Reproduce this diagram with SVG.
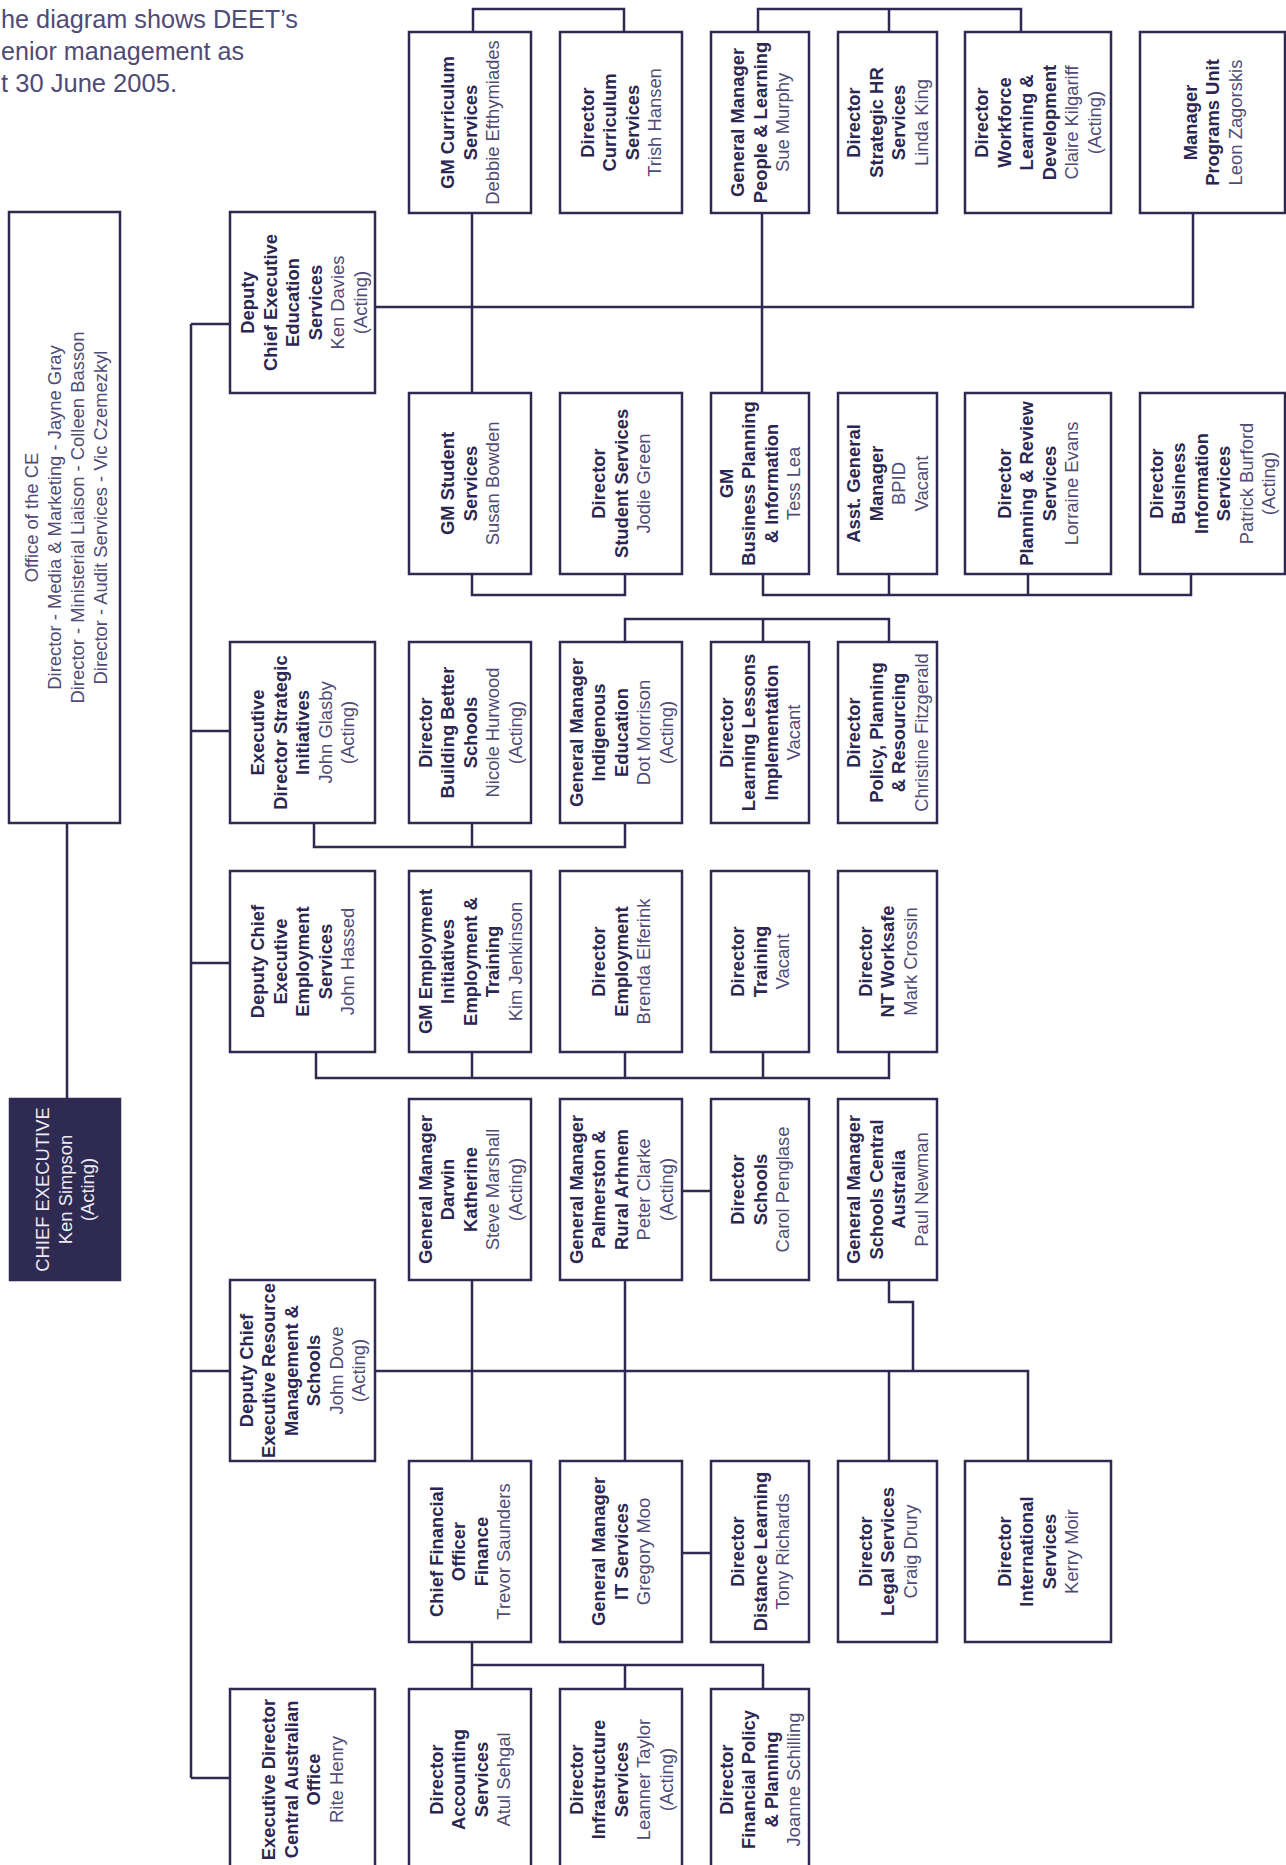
<svg xmlns="http://www.w3.org/2000/svg" width="1286" height="1865" viewBox="0 0 1286 1865">
<style>
  .box{fill:#ffffff;stroke:#2e2a52;stroke-width:2.5}
  .ce{fill:#2e2a52;stroke:#2e2a52;stroke-width:2.5}
  .t{font-family:"Liberation Sans",Arial,Helvetica,sans-serif;font-size:18.4px;text-anchor:middle}
  .b{font-weight:bold;fill:#2b2752}
  .l{fill:#504b76}
  .w{fill:#ecebf3}
  .intro{font-family:"Liberation Sans",Arial,Helvetica,sans-serif;font-size:25px;fill:#504b76}
  .c path{fill:none;stroke:#2e2a52;stroke-width:2.5}
</style>
<rect width="1286" height="1865" fill="#ffffff"/>

<g id="intro">
  <text class="intro" x="1" y="28" textLength="297" lengthAdjust="spacingAndGlyphs">he diagram shows DEET’s</text>
  <text class="intro" x="1" y="60" textLength="243" lengthAdjust="spacingAndGlyphs">enior management as</text>
  <text class="intro" x="1" y="92" textLength="176" lengthAdjust="spacingAndGlyphs">t 30 June 2005.</text>
</g>

<g id="connectors" class="c">
  <path d="M67 823 V1099"/>
  <path d="M191 324 V1778"/>
  <path d="M191 324 H230 M191 731 H230 M191 963 H230 M191 1371 H230 M191 1778 H230"/>
  <path d="M473 32 V9 H624 V32"/>
  <path d="M758 32 V9 H1021 V32 M889 9 V32"/>
  <path d="M375 307 H1193 V213"/>
  <path d="M472 213 V393 M762 213 V393"/>
  <path d="M472 574 V595 H625 V574"/>
  <path d="M763 574 V595 H1191 V574 M889 574 V595 M1028 574 V595"/>
  <path d="M625 642 V619 H889 V642 M763 619 V642"/>
  <path d="M314 823 V847 H625 V823 M472 823 V847"/>
  <path d="M316 1052 V1078 H889 V1052 M472 1052 V1078 M625 1052 V1078 M763 1052 V1078"/>
  <path d="M682 1191 H711"/>
  <path d="M472 1280 V1461 M625 1280 V1461"/>
  <path d="M375 1371 H1028 V1461 M889 1371 V1461"/>
  <path d="M889 1280 V1302 H913 V1371"/>
  <path d="M682 1553 H711"/>
  <path d="M472 1642 V1689 M472 1665 H763 V1689 M625 1665 V1689"/>
</g>

<g id="office-ce">
  <rect class="box" x="9" y="212" width="111" height="611"/>
  <text class="t l" transform="translate(66,517.5) rotate(-90)"><tspan x="0" y="-27.8">Office of the CE</tspan><tspan x="0" y="-4.8">Director - Media &amp; Marketing - Jayne Gray</tspan><tspan x="0" y="18.2">Director - Ministerial Liaison - Colleen Basson</tspan><tspan x="0" y="41.2">Director - Audit Services - Vic Czemezkyl</tspan></text>
</g>

<g id="chief-executive">
  <rect class="ce" x="10" y="1099" width="110" height="181"/>
  <text class="t w" transform="translate(65,1189.5) rotate(-90)"><tspan x="0" y="-16">CHIEF EXECUTIVE</tspan><tspan x="0" y="6.5">Ken Simpson</tspan><tspan x="0" y="29">(Acting)</tspan></text>
</g>

<!-- Column A -->
<g id="dce-education">
  <rect class="box" x="230" y="212" width="145" height="181"/>
  <text class="t" transform="translate(304,302.5) rotate(-90)"><tspan class="b" x="0" y="-49.75">Deputy</tspan><tspan class="b" x="0" y="-27.25">Chief Executive</tspan><tspan class="b" x="0" y="-4.75">Education</tspan><tspan class="b" x="0" y="17.75">Services</tspan><tspan class="l" x="0" y="40.25">Ken Davies</tspan><tspan class="l" x="0" y="62.75">(Acting)</tspan></text>
</g>
<g id="ed-strategic">
  <rect class="box" x="230" y="642" width="145" height="181"/>
  <text class="t" transform="translate(302.5,732.5) rotate(-90)"><tspan class="b" x="0" y="-38.5">Executive</tspan><tspan class="b" x="0" y="-16">Director Strategic</tspan><tspan class="b" x="0" y="6.5">Initiatives</tspan><tspan class="l" x="0" y="29">John Glasby</tspan><tspan class="l" x="0" y="51.5">(Acting)</tspan></text>
</g>
<g id="dce-employment">
  <rect class="box" x="230" y="871" width="145" height="181"/>
  <text class="t" transform="translate(302.5,961.5) rotate(-90)"><tspan class="b" x="0" y="-38.5">Deputy Chief</tspan><tspan class="b" x="0" y="-16">Executive</tspan><tspan class="b" x="0" y="6.5">Employment</tspan><tspan class="b" x="0" y="29">Services</tspan><tspan class="l" x="0" y="51.5">John Hassed</tspan></text>
</g>
<g id="dce-resource">
  <rect class="box" x="230" y="1280" width="145" height="181"/>
  <text class="t" transform="translate(302.5,1370.5) rotate(-90)"><tspan class="b" x="0" y="-49.75">Deputy Chief</tspan><tspan class="b" x="0" y="-27.25">Executive Resource</tspan><tspan class="b" x="0" y="-4.75">Management &amp;</tspan><tspan class="b" x="0" y="17.75">Schools</tspan><tspan class="l" x="0" y="40.25">John Dove</tspan><tspan class="l" x="0" y="62.75">(Acting)</tspan></text>
</g>
<g id="ed-central">
  <rect class="box" x="230" y="1689" width="145" height="181"/>
  <text class="t" transform="translate(302.5,1779.5) rotate(-90)"><tspan class="b" x="0" y="-27.25">Executive Director</tspan><tspan class="b" x="0" y="-4.75">Central Australian</tspan><tspan class="b" x="0" y="17.75">Office</tspan><tspan class="l" x="0" y="40.25">Rite Henry</tspan></text>
</g>

<!-- Row 1 -->
<g id="gm-curriculum">
  <rect class="box" x="409" y="32" width="122" height="181"/>
  <text class="t" transform="translate(470,122.5) rotate(-90)"><tspan class="b" x="0" y="-16">GM Curriculum</tspan><tspan class="b" x="0" y="6.5">Services</tspan><tspan class="l" x="0" y="29">Debbie Efthymiades</tspan></text>
</g>
<g id="dir-curriculum">
  <rect class="box" x="560" y="32" width="122" height="181"/>
  <text class="t" transform="translate(621,122.5) rotate(-90)"><tspan class="b" x="0" y="-27.25">Director</tspan><tspan class="b" x="0" y="-4.75">Curriculum</tspan><tspan class="b" x="0" y="17.75">Services</tspan><tspan class="l" x="0" y="40.25">Trish Hansen</tspan></text>
</g>
<g id="gm-people">
  <rect class="box" x="711" y="32" width="98" height="181"/>
  <text class="t" transform="translate(760,122.5) rotate(-90)"><tspan class="b" x="0" y="-16">General Manager</tspan><tspan class="b" x="0" y="6.5">People &amp; Learning</tspan><tspan class="l" x="0" y="29">Sue Murphy</tspan></text>
</g>
<g id="dir-strategic-hr">
  <rect class="box" x="838" y="32" width="99" height="181"/>
  <text class="t" transform="translate(887.5,122.5) rotate(-90)"><tspan class="b" x="0" y="-27.25">Director</tspan><tspan class="b" x="0" y="-4.75">Strategic HR</tspan><tspan class="b" x="0" y="17.75">Services</tspan><tspan class="l" x="0" y="40.25">Linda King</tspan></text>
</g>
<g id="dir-workforce">
  <rect class="box" x="965" y="32" width="146" height="181"/>
  <text class="t" transform="translate(1038,122.5) rotate(-90)"><tspan class="b" x="0" y="-49.75">Director</tspan><tspan class="b" x="0" y="-27.25">Workforce</tspan><tspan class="b" x="0" y="-4.75">Learning &amp;</tspan><tspan class="b" x="0" y="17.75">Development</tspan><tspan class="l" x="0" y="40.25">Claire Kilgariff</tspan><tspan class="l" x="0" y="62.75">(Acting)</tspan></text>
</g>
<g id="mgr-programs">
  <rect class="box" x="1140" y="32" width="145" height="181"/>
  <text class="t" transform="translate(1212.5,122.5) rotate(-90)"><tspan class="b" x="0" y="-16">Manager</tspan><tspan class="b" x="0" y="6.5">Programs Unit</tspan><tspan class="l" x="0" y="29">Leon Zagorskis</tspan></text>
</g>

<!-- Row 2 -->
<g id="gm-student">
  <rect class="box" x="409" y="393" width="122" height="181"/>
  <text class="t" transform="translate(470,483.5) rotate(-90)"><tspan class="b" x="0" y="-16">GM Student</tspan><tspan class="b" x="0" y="6.5">Services</tspan><tspan class="l" x="0" y="29">Susan Bowden</tspan></text>
</g>
<g id="dir-student">
  <rect class="box" x="560" y="393" width="122" height="181"/>
  <text class="t" transform="translate(621,483.5) rotate(-90)"><tspan class="b" x="0" y="-16">Director</tspan><tspan class="b" x="0" y="6.5">Student Services</tspan><tspan class="l" x="0" y="29">Jodie Green</tspan></text>
</g>
<g id="gm-business-planning">
  <rect class="box" x="711" y="393" width="98" height="181"/>
  <text class="t" transform="translate(760,483.5) rotate(-90)"><tspan class="b" x="0" y="-27.25">GM</tspan><tspan class="b" x="0" y="-4.75">Business Planning</tspan><tspan class="b" x="0" y="17.75">&amp; Information</tspan><tspan class="l" x="0" y="40.25">Tess Lea</tspan></text>
</g>
<g id="asst-gm">
  <rect class="box" x="838" y="393" width="99" height="181"/>
  <text class="t" transform="translate(887.5,483.5) rotate(-90)"><tspan class="b" x="0" y="-27.25">Asst. General</tspan><tspan class="b" x="0" y="-4.75">Manager</tspan><tspan class="l" x="0" y="17.75">BPID</tspan><tspan class="l" x="0" y="40.25">Vacant</tspan></text>
</g>
<g id="dir-planning-review">
  <rect class="box" x="965" y="393" width="146" height="181"/>
  <text class="t" transform="translate(1038,483.5) rotate(-90)"><tspan class="b" x="0" y="-27.25">Director</tspan><tspan class="b" x="0" y="-4.75">Planning &amp; Review</tspan><tspan class="b" x="0" y="17.75">Services</tspan><tspan class="l" x="0" y="40.25">Lorraine Evans</tspan></text>
</g>
<g id="dir-business-info">
  <rect class="box" x="1140" y="393" width="145" height="181"/>
  <text class="t" transform="translate(1212.5,483.5) rotate(-90)"><tspan class="b" x="0" y="-49.75">Director</tspan><tspan class="b" x="0" y="-27.25">Business</tspan><tspan class="b" x="0" y="-4.75">Information</tspan><tspan class="b" x="0" y="17.75">Services</tspan><tspan class="l" x="0" y="40.25">Patrick Burford</tspan><tspan class="l" x="0" y="62.75">(Acting)</tspan></text>
</g>

<!-- Row 3 -->
<g id="dir-bbs">
  <rect class="box" x="409" y="642" width="122" height="181"/>
  <text class="t" transform="translate(470,732.5) rotate(-90)"><tspan class="b" x="0" y="-38.5">Director</tspan><tspan class="b" x="0" y="-16">Building Better</tspan><tspan class="b" x="0" y="6.5">Schools</tspan><tspan class="l" x="0" y="29">Nicole Hurwood</tspan><tspan class="l" x="0" y="51.5">(Acting)</tspan></text>
</g>
<g id="gm-indigenous">
  <rect class="box" x="560" y="642" width="122" height="181"/>
  <text class="t" transform="translate(621,732.5) rotate(-90)"><tspan class="b" x="0" y="-38.5">General Manager</tspan><tspan class="b" x="0" y="-16">Indigenous</tspan><tspan class="b" x="0" y="6.5">Education</tspan><tspan class="l" x="0" y="29">Dot Morrison</tspan><tspan class="l" x="0" y="51.5">(Acting)</tspan></text>
</g>
<g id="dir-learning-lessons">
  <rect class="box" x="711" y="642" width="98" height="181"/>
  <text class="t" transform="translate(760,732.5) rotate(-90)"><tspan class="b" x="0" y="-27.25">Director</tspan><tspan class="b" x="0" y="-4.75">Learning Lessons</tspan><tspan class="b" x="0" y="17.75">Implementation</tspan><tspan class="l" x="0" y="40.25">Vacant</tspan></text>
</g>
<g id="dir-policy">
  <rect class="box" x="838" y="642" width="99" height="181"/>
  <text class="t" transform="translate(887.5,732.5) rotate(-90)"><tspan class="b" x="0" y="-27.25">Director</tspan><tspan class="b" x="0" y="-4.75">Policy, Planning</tspan><tspan class="b" x="0" y="17.75">&amp; Resourcing</tspan><tspan class="l" x="0" y="40.25">Christine Fitzgerald</tspan></text>
</g>

<!-- Row 4 -->
<g id="gm-employment">
  <rect class="box" x="409" y="871" width="122" height="181"/>
  <text class="t" transform="translate(470,961.5) rotate(-90)"><tspan class="b" x="0" y="-38.5">GM Employment</tspan><tspan class="b" x="0" y="-16">Initiatives</tspan><tspan class="b" x="0" y="6.5">Employment &amp;</tspan><tspan class="b" x="0" y="29">Training</tspan><tspan class="l" x="0" y="51.5">Kim Jenkinson</tspan></text>
</g>
<g id="dir-employment">
  <rect class="box" x="560" y="871" width="122" height="181"/>
  <text class="t" transform="translate(621,961.5) rotate(-90)"><tspan class="b" x="0" y="-16">Director</tspan><tspan class="b" x="0" y="6.5">Employment</tspan><tspan class="l" x="0" y="29">Brenda Elferink</tspan></text>
</g>
<g id="dir-training">
  <rect class="box" x="711" y="871" width="98" height="181"/>
  <text class="t" transform="translate(760,961.5) rotate(-90)"><tspan class="b" x="0" y="-16">Director</tspan><tspan class="b" x="0" y="6.5">Training</tspan><tspan class="l" x="0" y="29">Vacant</tspan></text>
</g>
<g id="dir-worksafe">
  <rect class="box" x="838" y="871" width="99" height="181"/>
  <text class="t" transform="translate(887.5,961.5) rotate(-90)"><tspan class="b" x="0" y="-16">Director</tspan><tspan class="b" x="0" y="6.5">NT Worksafe</tspan><tspan class="l" x="0" y="29">Mark Crossin</tspan></text>
</g>

<!-- Row 5 -->
<g id="gm-darwin">
  <rect class="box" x="409" y="1099" width="122" height="181"/>
  <text class="t" transform="translate(470,1189.5) rotate(-90)"><tspan class="b" x="0" y="-38.5">General Manager</tspan><tspan class="b" x="0" y="-16">Darwin</tspan><tspan class="b" x="0" y="6.5">Katherine</tspan><tspan class="l" x="0" y="29">Steve Marshall</tspan><tspan class="l" x="0" y="51.5">(Acting)</tspan></text>
</g>
<g id="gm-palmerston">
  <rect class="box" x="560" y="1099" width="122" height="181"/>
  <text class="t" transform="translate(621,1189.5) rotate(-90)"><tspan class="b" x="0" y="-38.5">General Manager</tspan><tspan class="b" x="0" y="-16">Palmerston &amp;</tspan><tspan class="b" x="0" y="6.5">Rural Arhnem</tspan><tspan class="l" x="0" y="29">Peter Clarke</tspan><tspan class="l" x="0" y="51.5">(Acting)</tspan></text>
</g>
<g id="dir-schools">
  <rect class="box" x="711" y="1099" width="98" height="181"/>
  <text class="t" transform="translate(760,1189.5) rotate(-90)"><tspan class="b" x="0" y="-16">Director</tspan><tspan class="b" x="0" y="6.5">Schools</tspan><tspan class="l" x="0" y="29">Carol Penglase</tspan></text>
</g>
<g id="gm-schools-central">
  <rect class="box" x="838" y="1099" width="99" height="181"/>
  <text class="t" transform="translate(887.5,1189.5) rotate(-90)"><tspan class="b" x="0" y="-27.25">General Manager</tspan><tspan class="b" x="0" y="-4.75">Schools Central</tspan><tspan class="b" x="0" y="17.75">Australia</tspan><tspan class="l" x="0" y="40.25">Paul Newman</tspan></text>
</g>

<!-- Row 6 -->
<g id="cfo">
  <rect class="box" x="409" y="1461" width="122" height="181"/>
  <text class="t" transform="translate(470,1551.5) rotate(-90)"><tspan class="b" x="0" y="-27.25">Chief Financial</tspan><tspan class="b" x="0" y="-4.75">Officer</tspan><tspan class="b" x="0" y="17.75">Finance</tspan><tspan class="l" x="0" y="40.25">Trevor Saunders</tspan></text>
</g>
<g id="gm-it">
  <rect class="box" x="560" y="1461" width="122" height="181"/>
  <text class="t" transform="translate(621,1551.5) rotate(-90)"><tspan class="b" x="0" y="-16">General Manager</tspan><tspan class="b" x="0" y="6.5">IT Services</tspan><tspan class="l" x="0" y="29">Gregory Moo</tspan></text>
</g>
<g id="dir-distance">
  <rect class="box" x="711" y="1461" width="98" height="181"/>
  <text class="t" transform="translate(760,1551.5) rotate(-90)"><tspan class="b" x="0" y="-16">Director</tspan><tspan class="b" x="0" y="6.5">Distance Learning</tspan><tspan class="l" x="0" y="29">Tony Richards</tspan></text>
</g>
<g id="dir-legal">
  <rect class="box" x="838" y="1461" width="99" height="181"/>
  <text class="t" transform="translate(887.5,1551.5) rotate(-90)"><tspan class="b" x="0" y="-16">Director</tspan><tspan class="b" x="0" y="6.5">Legal Services</tspan><tspan class="l" x="0" y="29">Craig Drury</tspan></text>
</g>
<g id="dir-international">
  <rect class="box" x="965" y="1461" width="146" height="181"/>
  <text class="t" transform="translate(1038,1551.5) rotate(-90)"><tspan class="b" x="0" y="-27.25">Director</tspan><tspan class="b" x="0" y="-4.75">International</tspan><tspan class="b" x="0" y="17.75">Services</tspan><tspan class="l" x="0" y="40.25">Kerry Moir</tspan></text>
</g>

<!-- Row 7 -->
<g id="dir-accounting">
  <rect class="box" x="409" y="1689" width="122" height="181"/>
  <text class="t" transform="translate(470,1779.5) rotate(-90)"><tspan class="b" x="0" y="-27.25">Director</tspan><tspan class="b" x="0" y="-4.75">Accounting</tspan><tspan class="b" x="0" y="17.75">Services</tspan><tspan class="l" x="0" y="40.25">Atul Sehgal</tspan></text>
</g>
<g id="dir-infrastructure">
  <rect class="box" x="560" y="1689" width="122" height="181"/>
  <text class="t" transform="translate(621,1779.5) rotate(-90)"><tspan class="b" x="0" y="-38.5">Director</tspan><tspan class="b" x="0" y="-16">Infrastructure</tspan><tspan class="b" x="0" y="6.5">Services</tspan><tspan class="l" x="0" y="29">Leanner Taylor</tspan><tspan class="l" x="0" y="51.5">(Acting)</tspan></text>
</g>
<g id="dir-financial-policy">
  <rect class="box" x="711" y="1689" width="98" height="181"/>
  <text class="t" transform="translate(760,1779.5) rotate(-90)"><tspan class="b" x="0" y="-27.25">Director</tspan><tspan class="b" x="0" y="-4.75">Financial Policy</tspan><tspan class="b" x="0" y="17.75">&amp; Planning</tspan><tspan class="l" x="0" y="40.25">Joanne Schilling</tspan></text>
</g>
</svg>
